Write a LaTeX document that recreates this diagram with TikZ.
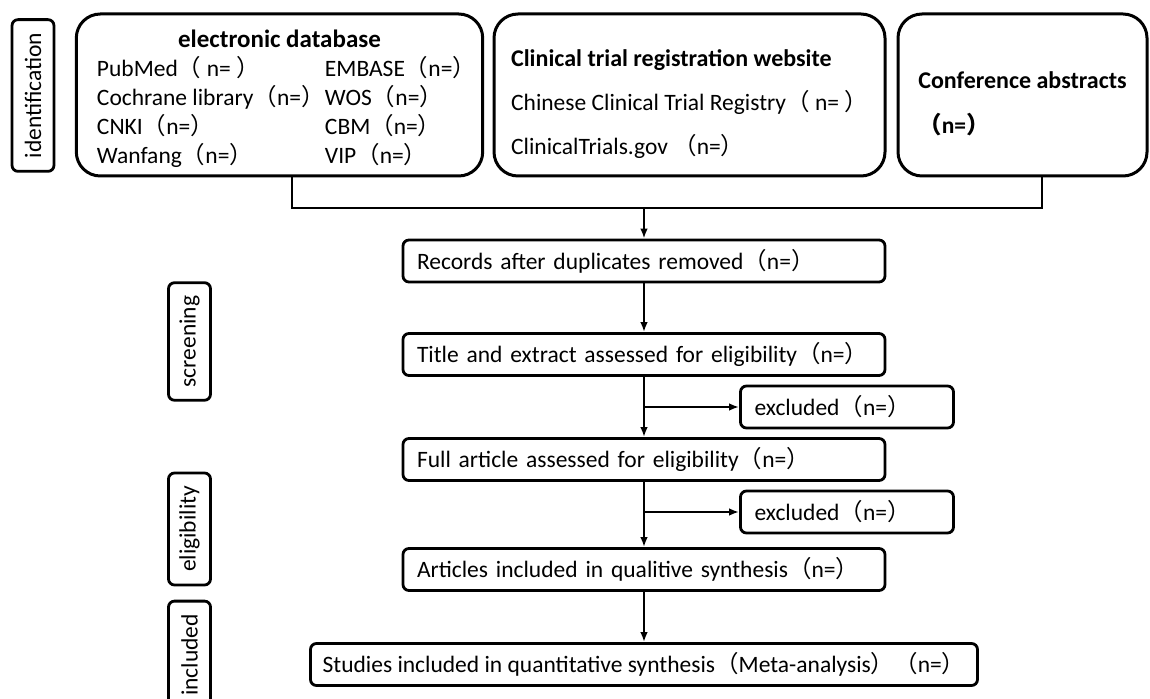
\documentclass[tikz,border=0pt]{standalone}
\usepackage{fontspec}
\setmainfont{Carlito}
\newfontfamily\cjk{Noto Sans CJK SC}
\usepackage{tikz}
\usetikzlibrary{shapes,arrows,arrows.meta,positioning}
\newcommand{\fwl}{{\cjk （}}
\newcommand{\fwr}{{\cjk ）}}
\tikzstyle{srcbox} = [rectangle, rounded corners=12pt, draw=black, line width=1.5pt, minimum height=81pt]
\tikzstyle{stagebox} = [rectangle, rounded corners=3pt, draw=black, line width=1.4pt, minimum height=21pt, inner xsep=7pt, text width=227pt, align=left]
\tikzstyle{widebox} = [rectangle, rounded corners=3pt, draw=black, line width=1.4pt, minimum height=21pt, minimum width=333.5pt]
\tikzstyle{exbox} = [stagebox, text width=92.5pt]
\tikzstyle{phasebox} = [rectangle, rounded corners=3pt, draw=black, line width=1.4pt, rotate=90, minimum height=21pt, inner xsep=6.5pt]
\tikzstyle{joinline} = [line width=1pt]
\tikzstyle{arrow} = [line width=1pt,-{Latex[length=5pt,width=3.8pt]}]
\begin{document}
\begin{tikzpicture}[node distance=50pt, x=0.5pt, y=-0.5pt, font=\fontsize{11.75}{14.5}\selectfont]
\useasboundingbox (0,0) rectangle (1150,699);
% sources
\node (db) [srcbox, minimum width=202.5pt] at (279.5,95) {\raisebox{-2.5pt}[\height][\depth]{\begin{tabular}{@{}c@{}}
{\fontsize{12.5}{15}\selectfont\bfseries electronic database}\\
\hspace*{7pt}\begin{tabular}[t]{@{}p{114pt}@{}l@{}}
PubMed\fwl\ n=\ \fwr & EMBASE\fwl n=\fwr\\
Cochrane library\fwl n=\fwr & WOS\fwl n=\fwr\\
CNKI\fwl n=\fwr & CBM\fwl n=\fwr\\
Wanfang\fwl n=\fwr & VIP\fwl n=\fwr
\end{tabular}
\end{tabular}}};
\node (reg) [srcbox, minimum width=195.5pt] at (689.5,95) {\raisebox{-5pt}[\height][\depth]{\begin{tabular}{@{}l@{}}
{\fontsize{12}{14.5}\selectfont\bfseries Clinical trial registration website}\\[7.5pt]
Chinese Clinical Trial Registry\fwl\ n=\ \fwr\\[7.5pt]
ClinicalTrials.gov \fwl n=\fwr
\end{tabular}}};
\node (conf) [srcbox, minimum width=124.5pt] at (1022.5,95) {\raisebox{-5.25pt}[\height][\depth]{\begin{tabular}{@{}l@{}}
{\fontsize{12}{14.5}\selectfont\bfseries Conference abstracts}\\[8pt]
{\bfseries\fwl n=\fwr}
\end{tabular}}};
% phases
\node (ident) [phasebox] at (33,95.5) {identification};
\node (screen) [phasebox] at (189.5,341.5) {screening};
\node (elig) [phasebox] at (189.5,529) {eligibility};
\node (incl) [phasebox] at (189.5,655) {included};
% flow
\node (rec) [stagebox] at (644,261) {Records after duplicates removed\fwl n=\fwr};
\node (tit) [stagebox, below of=rec, yshift=3.25pt] {Title and extract assessed for eligibility\fwl n=\fwr};
\node (ex1) [exbox, below of=tit, xshift=101.5pt, yshift=23.75pt] {excluded\fwl n=\fwr};
\node (full) [stagebox, below of=tit, yshift=-2.5pt] {Full article assessed for eligibility\fwl n=\fwr};
\node (ex2) [exbox, below of=full, xshift=101.5pt, yshift=23.75pt] {excluded\fwl n=\fwr};
\node (art) [stagebox, below of=full, yshift=-5pt] {Articles included in qualitive synthesis\fwl n=\fwr};
\node (stud) [widebox, below of=art, yshift=2.5pt] {Studies included in quantitative synthesis\fwl Meta-analysis\fwr\fwl n=\fwr};
\coordinate (join) at ([yshift=15.5pt]rec.north);
\draw [joinline] ([xshift=6.25pt]db.south) |- (join) -| ([xshift=9.75pt]conf.south);
\draw [arrow] (join) -- (rec);
\draw [arrow] (rec) -- (tit);
\draw [arrow] (tit) -- (full);
\draw [arrow] (tit.south |- ex1.west) -- (ex1);
\draw [arrow] (full) -- (art);
\draw [arrow] (full.south |- ex2.west) -- (ex2);
\draw [arrow] (art) -- (stud);
\end{tikzpicture}
\end{document}
